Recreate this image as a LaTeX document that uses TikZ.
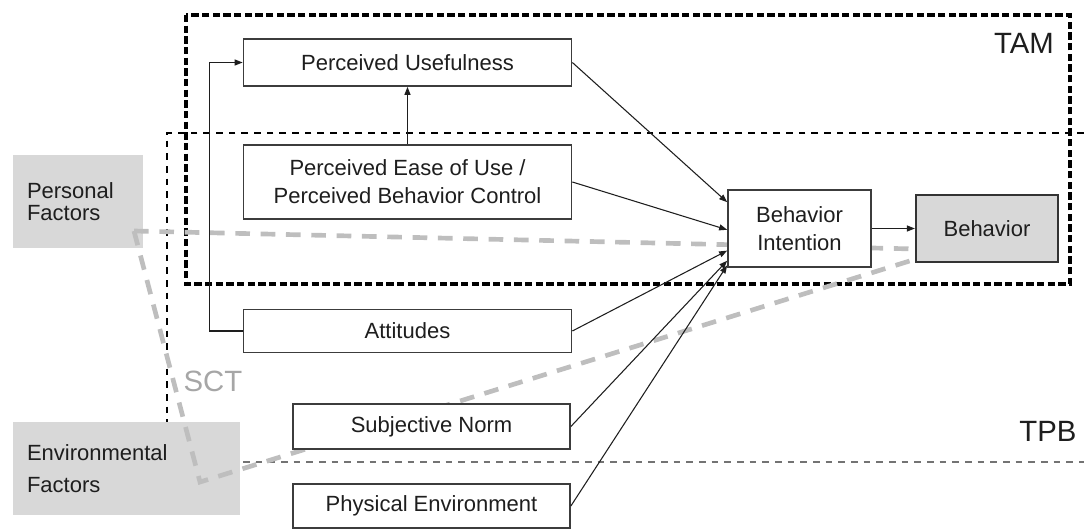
\documentclass[tikz,border=0pt]{standalone}
\usepackage{fontspec}
\setmainfont{Liberation Sans}
\usetikzlibrary{arrows.meta}
\definecolor{ink}{HTML}{1E1E1E}
\definecolor{edge}{HTML}{3C3C3C}
\definecolor{shade}{HTML}{D8D8D8}
\definecolor{sctgray}{HTML}{BEBEBE}
\definecolor{sctlabel}{HTML}{A6A6A6}
\tikzset{
  box/.style={draw=edge, line width=1.3pt, fill=white, text=ink, inner sep=0pt, align=center, font=\fontsize{16.5}{21}\selectfont},
  factor/.style={fill=shade, text=ink, inner xsep=10.5pt, inner ysep=0pt, align=left, minimum height=69.75pt, font=\fontsize{16.5}{16.5}\selectfont},
  link/.style={draw=ink, line width=0.8pt, -{Triangle[length=6pt,width=4.5pt]}},
  tamframe/.style={draw=black, line width=3pt, dash pattern=on 5.5pt off 2.5pt},
  tpbframe/.style={draw=black, line width=1.8pt, dash pattern=on 5pt off 4.5pt},
  sctline/.style={draw=sctgray, line width=3.5pt, dash pattern=on 11pt off 8pt},
  tag/.style={text=ink, font=\fontsize{22}{22}\selectfont},
}

\begin{document}
\begin{tikzpicture}[x=0.75pt, y=-0.75pt]
  \useasboundingbox (0,0) rectangle (1084,531);
  % model frames
  \draw[tpbframe] (1084,133) -- (167,133) -- (167,462);
  \draw[tpbframe, draw=black!55] (167,462) -- (1084,462);
  \draw[tamframe] (186,15) rectangle (1070,284);
  \node[tag] (tam) at (1024,43) {TAM};
  \node[tag] (tpb) at (1048,431) {TPB};
  \node[tag, text=sctlabel] (sct) at (213,381) {SCT};
  % SCT factors
  \node[factor, text width=76.5pt] (pf) at (78,201.5) {Personal\\Factors};
  \node[factor, text width=149.25pt, font=\fontsize{16.5}{24.5}\selectfont] (ef) at (126.5,468.5) {Environmental\\Factors};
  \node[box, fill=shade, draw=black!80, line width=1.6pt, minimum width=106.5pt, minimum height=50.25pt] (beh) at (987,228.5) {Behavior};
  \coordinate (pf-out) at (134,231);
  \coordinate (ef-turn) at (200,482);
  \coordinate (beh-in1) at (916,249);
  \coordinate (beh-in2) at (916,259);
  \draw[sctline] (pf-out) -- (beh-in1);
  \draw[sctline] (pf-out) -- (ef-turn) -- (beh-in2);
  % constructs
  \node[box, minimum width=246pt, minimum height=35.25pt] (pu) at (407.5,62.5) {Perceived Usefulness};
  \node[box, minimum width=246pt, minimum height=55.5pt] (peu) at (407.5,182) {Perceived Ease of Use /\\Perceived Behavior Control};
  \node[box, minimum width=246pt, minimum height=32.25pt] (att) at (407.5,331) {Attitudes};
  \node[box, minimum width=207.75pt, minimum height=33.75pt] (sn) at (431.5,426.5) {Subjective Norm};
  \node[box, minimum width=207.75pt, minimum height=33pt] (pe) at (431.5,506) {Physical Environment};
  \node[box, minimum width=107.25pt, minimum height=57.75pt] (bi) at (799.5,228.5) {Behavior\\Intention};
  % paths
  \draw[link] (pu.east) -- (bi.160);
  \draw[link] (peu.east) -- (bi.181);
  \draw[link] (att.east) -- (bi.197);
  \draw[link] (sn.east) -- (bi.204);
  \draw[link] (pe.east) -- (bi.207);
  \draw[link] (peu.north) -- (pu.south);
  \draw[link] (att.west) -- ++(-33,0) |- (pu.west);
  \draw[link] (bi.east) -- (beh.west);
\end{tikzpicture}
\end{document}
